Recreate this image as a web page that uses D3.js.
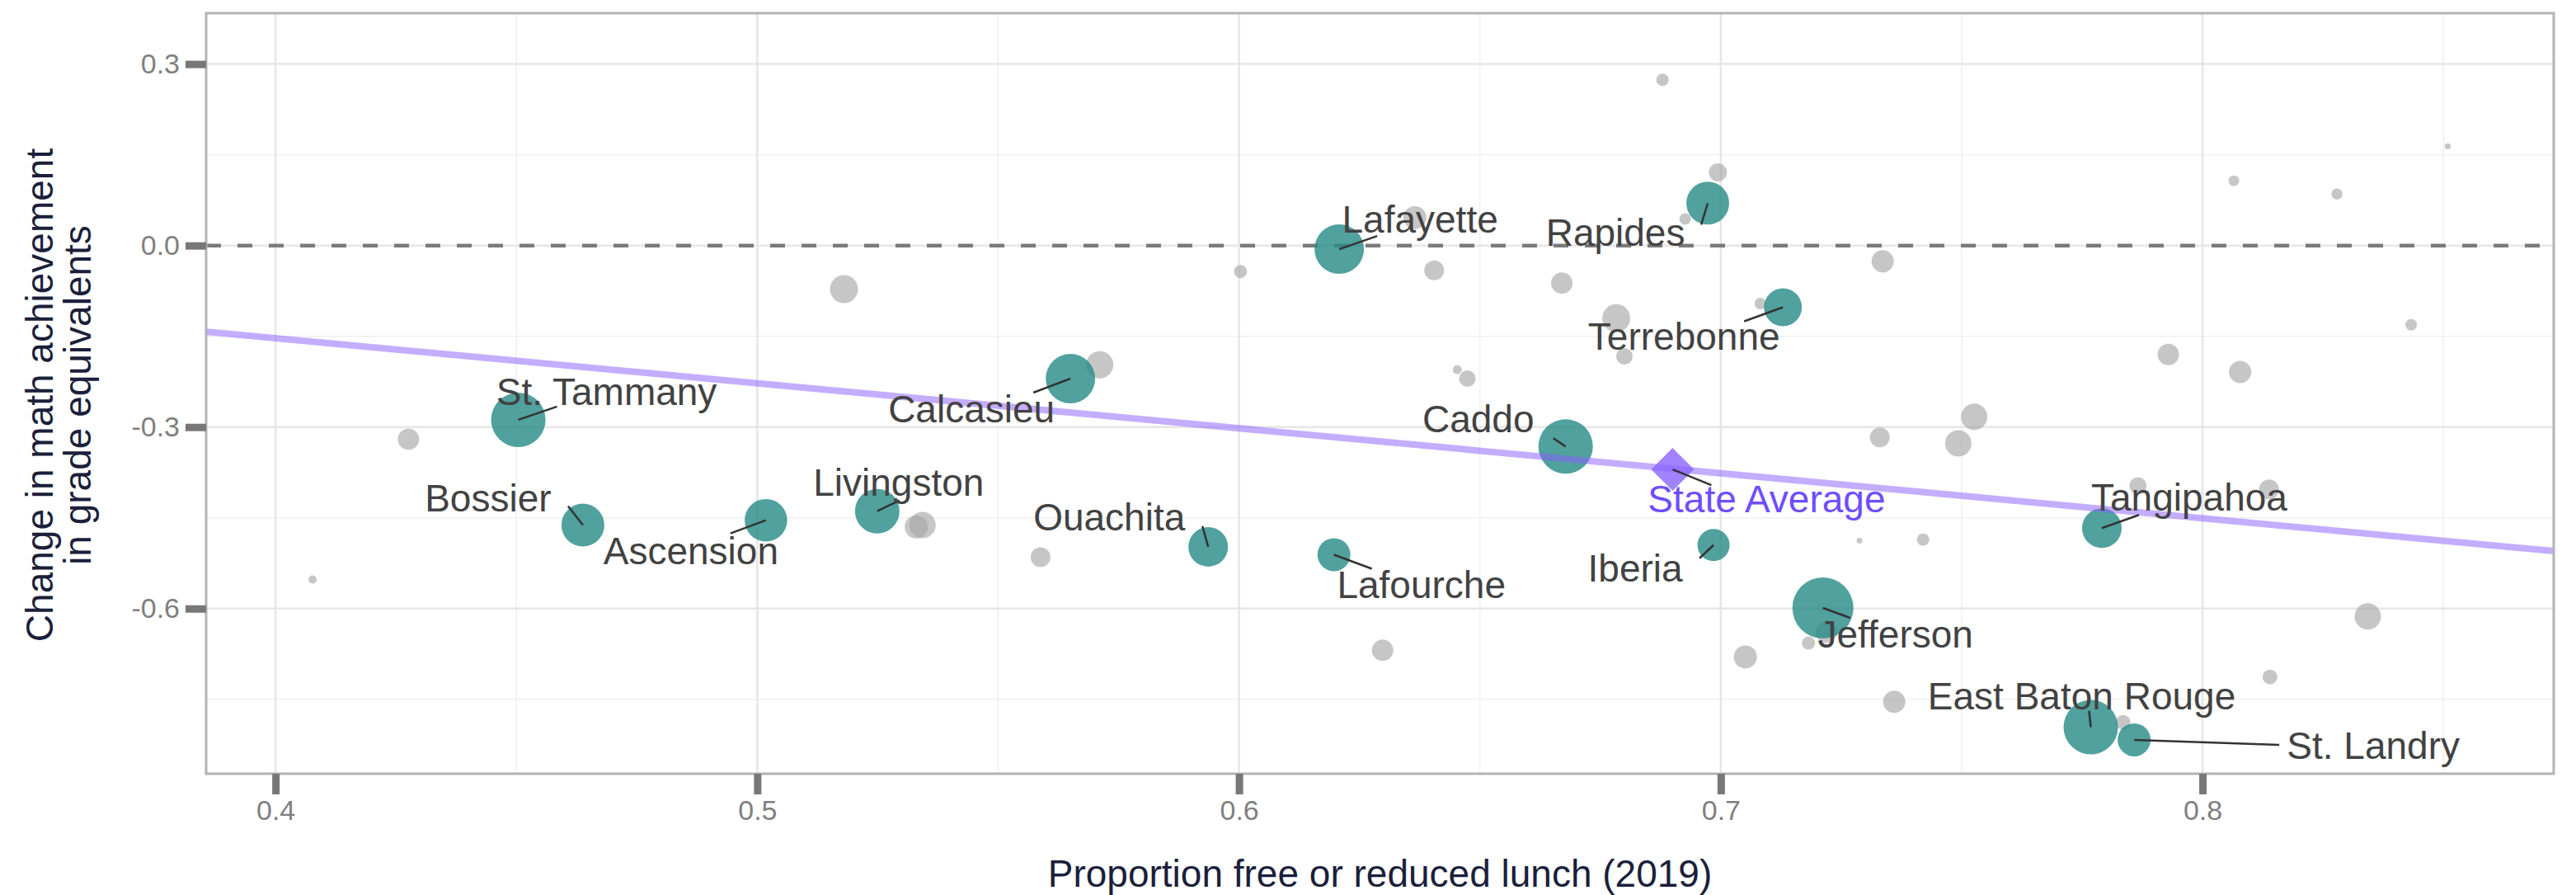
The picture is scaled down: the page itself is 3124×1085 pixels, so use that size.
<!DOCTYPE html>
<html>
<head>
<meta charset="utf-8">
<script src="https://cdn.jsdelivr.net/npm/d3@7"></script>
<style>
body{margin:0;background:#fff;}
text{font-family:"Liberation Sans",Arial,sans-serif;}
</style>
</head>
<body>
<div id="chart"></div>
<script>

// labelled parishes (teal)
const parishNames = ["St. Tammany","Bossier","Ascension","Livingston","Calcasieu","Ouachita","Lafourche","Lafayette",
    "Rapides","Terrebonne","Caddo","Iberia","Jefferson","Tangipahoa","East Baton Rouge","St. Landry"];
const parishFrl = [0.4504,0.4638,0.5018,0.5249,0.5650,0.5936,0.6197,0.6208,
    0.6973,0.7129,0.6678,0.6985,0.7212,0.7791,0.7768,0.7858];
const parishChange = [-0.288,-0.462,-0.454,-0.439,-0.220,-0.498,-0.511,-0.006,
    0.070,-0.102,-0.332,-0.495,-0.599,-0.467,-0.796,-0.817];
const parishStudents = [38200,23700,23300,25600,31500,20200,14000,31500,
    23700,18500,38200,13300,48000,20200,38200,14000];

// other parishes (grey)
const otherFrl = [0.4276,0.4077,0.5180,0.5711,0.6003,0.5330,0.5343,0.5588,0.6365,0.6405,
    0.6670,0.6879,0.6994,0.6926,0.7336,0.6783,0.7082,0.6800,0.6453,0.6474,
    0.7330,0.7493,0.7526,0.7288,0.7420,0.7219,0.7182,0.6298,0.7051,0.7360,
    0.8065,0.8279,0.8509,0.8433,0.7929,0.8078,0.7866,0.8138,0.8343,0.8140,0.7835];
const otherChange = [-0.320,-0.552,-0.072,-0.197,-0.043,-0.465,-0.462,-0.515,0.046,-0.041,
    -0.062,0.274,0.121,0.044,-0.026,-0.120,-0.096,-0.183,-0.205,-0.220,
    -0.317,-0.327,-0.283,-0.488,-0.486,-0.639,-0.657,-0.669,-0.680,-0.754,
    0.107,0.085,0.164,-0.131,-0.180,-0.209,-0.397,-0.403,-0.613,-0.713,-0.788];
const otherStudents = [5920,880,10100,9550,2240,6870,9000,5050,6870,5050,
    5920,1970,4240,1720,6390,10100,1720,3510,1060,3510,
    5050,9000,9000,430,1970,5920,2240,5920,6870,6390,
    1480,1570,480,1720,5920,6390,3790,5050,9000,2840,2840];

// state average and linear fit
const stateLabel = "State Average";
const stateFrl = 0.690;
const stateChange = -0.370;
const fitIntercept = 0.1444;
const fitSlope = -0.744;

// ticks
const xTicks = [0.4,0.5,0.6,0.7,0.8];
const yTicks = [0.3,0.0,-0.3,-0.6];
const xMinor = [0.45,0.55,0.65,0.75,0.85];
const yMinor = [0.15,-0.15,-0.45,-0.75];

const xTitle = "Proportion free or reduced lunch (2019)";
const yTitle = ["Change in math achievement","in grade equivalents"];


// label layout (px): text centre dx, baseline dy, segment end dx, dy
const labelPos = {
    "St. Tammany":[107,-18,47,-16],
    "Bossier":[-115,-17,-18,-23],
    "Ascension":[-91,53,-43,16],
    "Livingston":[26,-19,27,-13],
    "Calcasieu":[-120,53,-45,17],
    "Ouachita":[-120,-20,-7,-25],
    "Lafourche":[106,53,46,17],
    "Lafayette":[98,-20,46,-16],
    "Rapides":[-112,52,-8,26],
    "Terrebonne":[-120,52,-47,17],
    "Caddo":[-106,-17,-15,-10],
    "Iberia":[-95,44,-17,16],
    "Jefferson":[88,48,33,12],
    "Tangipahoa":[106,-21,45,-16],
    "East Baton Rouge":[-11,-22,-2,-20],
    "St. Landry":[290,23,176,6],
    "State Average":[114,52,47,19]
};


//基础画布
const W = 3124, H = 1085;
const panel = {left: 250, right: 3097, top: 16, bottom: 938};

const svg = d3.select("#chart")
    .append("svg")
    .attr("width", W)
    .attr("height", H)
    .style("background", "#fff");

//比例尺
const xScale = d3.scaleLinear().domain([0.3856, 0.8729]).range([panel.left, panel.right]);
const yScale = d3.scaleLinear().domain([-0.873, 0.384]).range([panel.bottom, panel.top]);
const rScale = d3.scaleSqrt().domain([0, 48000]).range([0, 37]);

const parishes = parishNames.map((n,i)=>({name:n, frl:parishFrl[i], change:parishChange[i], students:parishStudents[i]}));
const others = otherFrl.map((f,i)=>({frl:f, change:otherChange[i], students:otherStudents[i]}));

// grid
const grid = svg.append("g").attr("class","grid");
grid.selectAll(".xminor").data(xMinor).enter().append("line")
    .attr("x1",d=>xScale(d)).attr("x2",d=>xScale(d))
    .attr("y1",panel.top).attr("y2",panel.bottom)
    .attr("stroke","#f0f0f0").attr("stroke-width",1.5);
grid.selectAll(".yminor").data(yMinor).enter().append("line")
    .attr("x1",panel.left).attr("x2",panel.right)
    .attr("y1",d=>yScale(d)).attr("y2",d=>yScale(d))
    .attr("stroke","#f0f0f0").attr("stroke-width",1.5);
grid.selectAll(".xmajor").data(xTicks).enter().append("line")
    .attr("x1",d=>xScale(d)).attr("x2",d=>xScale(d))
    .attr("y1",panel.top).attr("y2",panel.bottom)
    .attr("stroke","#e6e6e6").attr("stroke-width",2.5);
grid.selectAll(".ymajor").data(yTicks).enter().append("line")
    .attr("x1",panel.left).attr("x2",panel.right)
    .attr("y1",d=>yScale(d)).attr("y2",d=>yScale(d))
    .attr("stroke","#e6e6e6").attr("stroke-width",2.5);

// zero line
svg.append("line")
    .attr("x1",panel.left).attr("x2",panel.right)
    .attr("y1",yScale(0)).attr("y2",yScale(0))
    .attr("stroke","#7a7a7a")
    .attr("stroke-width",4.5)
    .attr("stroke-dasharray","18,20");

// points
svg.append("g").selectAll("circle")
    .data(others).enter().append("circle")
    .attr("cx",d=>xScale(d.frl))
    .attr("cy",d=>yScale(d.change))
    .attr("r",d=>rScale(d.students))
    .attr("fill","#a8a8a8")
    .attr("fill-opacity",0.65);

svg.append("g").selectAll("circle")
    .data(parishes).enter().append("circle")
    .attr("cx",d=>xScale(d.frl))
    .attr("cy",d=>yScale(d.change))
    .attr("r",d=>rScale(d.students))
    .attr("fill","#258a86")
    .attr("fill-opacity",0.8);

// fit line
const xd = xScale.domain();
svg.append("line")
    .attr("x1",xScale(xd[0])).attr("y1",yScale(fitIntercept+fitSlope*xd[0]))
    .attr("x2",xScale(xd[1])).attr("y2",yScale(fitIntercept+fitSlope*xd[1]))
    .attr("stroke","#8a5cff")
    .attr("stroke-opacity",0.5)
    .attr("stroke-width",8);

// state average
svg.append("path")
    .attr("d",d3.symbol().type(d3.symbolSquare).size(26*26*2)())
    .attr("transform","translate("+xScale(stateFrl)+","+yScale(stateChange)+") rotate(45)")
    .attr("fill","#8a63ff")
    .attr("fill-opacity",0.8);

// labels
const labelData = parishes.map(d=>({name:d.name, px:xScale(d.frl), py:yScale(d.change), color:"#424242"}));
labelData.push({name:stateLabel, px:xScale(stateFrl), py:yScale(stateChange), color:"#6f4dff"});

const labels = svg.append("g");
labels.selectAll("line")
    .data(labelData).enter().append("line")
    .attr("x1",d=>d.px).attr("y1",d=>d.py)
    .attr("x2",d=>d.px+labelPos[d.name][2])
    .attr("y2",d=>d.py+labelPos[d.name][3])
    .attr("stroke","#333")
    .attr("stroke-width",2.5);
labels.selectAll("text")
    .data(labelData).enter().append("text")
    .attr("x",d=>d.px+labelPos[d.name][0])
    .attr("y",d=>d.py+labelPos[d.name][1])
    .attr("text-anchor","middle")
    .attr("font-size",46)
    .attr("fill",d=>d.color)
    .text(d=>d.name);

// panel border
svg.append("rect")
    .attr("x",panel.left).attr("y",panel.top)
    .attr("width",panel.right-panel.left)
    .attr("height",panel.bottom-panel.top)
    .attr("fill","none")
    .attr("stroke","#b3b3b3")
    .attr("stroke-width",3);

//坐标轴
const yAxis = svg.append("g")
    .attr("transform","translate("+panel.left+",0)")
    .call(d3.axisLeft(yScale).tickValues(yTicks).tickSize(25).tickPadding(7).tickFormat(d=>d.toFixed(1)));
const xAxis = svg.append("g")
    .attr("transform","translate(0,"+panel.bottom+")")
    .call(d3.axisBottom(xScale).tickValues(xTicks).tickSize(25).tickPadding(7).tickFormat(d=>d.toFixed(1)));
[xAxis,yAxis].forEach(a=>{
    a.select(".domain").remove();
    a.selectAll(".tick line").attr("stroke","#777").attr("stroke-width",9);
    a.selectAll(".tick text")
        .attr("fill","#7f7f7f")
        .attr("font-size",34)
        .attr("font-family","Liberation Sans, Arial, sans-serif");
});

// titles
svg.append("text")
    .attr("x",(panel.left+panel.right)/2)
    .attr("y",1075)
    .attr("text-anchor","middle")
    .attr("font-size",46)
    .attr("fill","#1b1f3b")
    .text(xTitle);

const yt = svg.append("text")
    .attr("transform","translate(0,479) rotate(-90)")
    .attr("text-anchor","middle")
    .attr("font-size",46)
    .attr("fill","#1b1f3b");
yt.selectAll("tspan").data(yTitle).enter().append("tspan")
    .attr("x",0)
    .attr("y",(d,i)=>64+i*46)
    .text(d=>d);

</script>
</body>
</html>
